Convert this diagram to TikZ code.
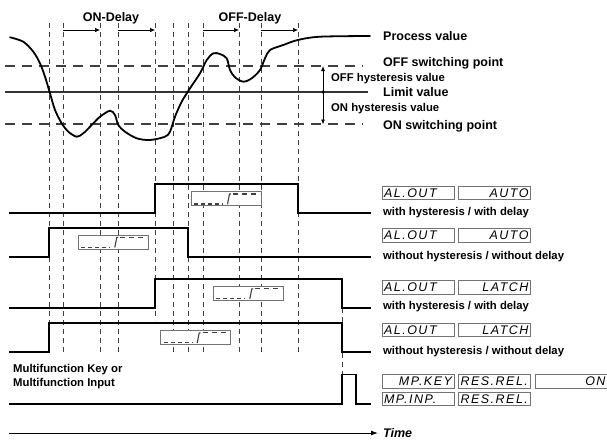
\documentclass[tikz,border=0pt]{standalone}
\usepackage{fontspec}
\setmainfont{Liberation Sans}
\newfontfamily\lcdfont[LetterSpace=12]{Liberation Sans}
\usepackage{tikz}
\usetikzlibrary{arrows.meta}

\tikzset{
	lbl/.style={anchor=base west,inner sep=0pt,font=\bfseries\fontsize{12.5}{14}\selectfont},
	smalllbl/.style={anchor=base west,inner sep=0pt,font=\bfseries\fontsize{11.3}{13.3}\selectfont},
	vdash/.style={black!75,line width=0.75pt,dash pattern=on 5pt off 4pt},
	hdash/.style={black!75,line width=1.2pt,dash pattern=on 10pt off 7pt},
	signal/.style={line width=1.8pt},
	delay/.style={-{Latex[length=5pt,width=4.5pt]},line width=0.7pt},
	lcd/.style={draw=black!55,line width=0.8pt,minimum width=72pt,minimum height=13.5pt,inner sep=0pt,text width=68pt,font=\lcdfont\itshape\fontsize{12.5}{12.5}\selectfont},
	relayicon/.pic={
		\draw[fill=white,draw=black!55,line width=0.8pt] (0,0) rectangle (70,14);
		\draw[black!75,line width=1.1pt,dash pattern=on 4pt off 3pt] (3,12.3) -- (32,12.3);
		\draw[black!75,line width=1.1pt] (36.5,12.5) -- (38.5,2.3) -- (40,2.3);
		\draw[black!75,line width=1.1pt,dash pattern=on 5pt off 4pt] (42,2.3) -- (69,2.3);
	}
}

\begin{document}
\begin{tikzpicture}[x=1pt,y=-1pt]
		\useasboundingbox (0,0) rectangle (607,440);
		% switching instants
		\foreach \x in {49,63,100,118,173,188,203,239,261,298}
			\draw[vdash] (\x,23) -- (\x,352);
		\draw[vdash] (155,23) -- (155,320);
		\draw[vdash] (342,308) -- (342,375);

		% delay arrows
		\node (ondelay) at (111,21.7)[anchor=base,inner sep=0pt,font=\bfseries\fontsize{12.5}{14}\selectfont]{ON-Delay};
		\node (offdelay) at (250,21.7)[anchor=base,inner sep=0pt,font=\bfseries\fontsize{12.5}{14}\selectfont]{OFF-Delay};
		\coordinate (on1a) at (63,30); \coordinate (on1b) at (100,30);
		\coordinate (on2a) at (118,30); \coordinate (on2b) at (155,30);
		\coordinate (off1a) at (203,30); \coordinate (off1b) at (239,30);
		\coordinate (off2a) at (261,30); \coordinate (off2b) at (298,30);
		\draw[delay] (on1a) -- (on1b);
		\draw[delay] (on2a) -- (on2b);
		\draw[delay] (off1a) -- (off1b);
		\draw[delay] (off2a) -- (off2b);

		% levels
		\draw[hdash] (5,66) -- (363,66);
		\draw[black!80,line width=1.1pt] (5,92) -- (368,92);
		\draw[hdash] (5,124) -- (363,124);
		\coordinate (hysttop) at (323,66);
		\coordinate (hystmid) at (323,92);
		\coordinate (hystbot) at (323,124.5);
		\draw[{Latex[length=5pt,width=4pt]}-{Latex[length=5pt,width=4pt]},line width=0.8pt] (hysttop) -- (hystbot);
		\fill (hystmid) circle (1.6pt);

		% process value
		\draw[line width=1.8pt,line cap=round] plot[smooth,tension=0.5] coordinates {
			(10,37.3) (23.3,41.7) (33.3,51.7) (40,63.3) (45,76.7) (50,93.3) (55,110)
			(61.7,123.3) (68.3,131.7) (76.7,136.7) (83.3,133.3) (91.7,125) (100,116.7)
			(110,110.7) (115,115) (118.3,125) (125,131.7) (136.7,138.3) (150,140)
			(165,136.7) (170,131.7) (175,116.7) (181.7,101.7) (190,88.3) (200,73.3)
			(206.7,60) (213.3,53.3) (220,54) (226.7,58.3) (230,70) (235,77.3) (243.3,81.7)
			(251.7,78.3) (260,70) (265,58.3) (270,50) (283.3,45) (297.7,40) (320,36.7) (370,36)};

		\node (pvlbl) at (383,40.7)[lbl]{Process value};
		\node (offlbl) at (383,66.5)[lbl]{OFF switching point};
		\node (offhyst) at (331,81.7)[smalllbl]{OFF hysteresis value};
		\node (limlbl) at (383,96)[lbl]{Limit value};
		\node (onhyst) at (331,111.7)[smalllbl]{ON hysteresis value};
		\node (onlbl) at (383,129.5)[lbl]{ON switching point};

		% relay outputs
		\draw[signal] (9,213) -- (155,213) -- (155,184) -- (298,184) -- (298,213) -- (371,213);
		\draw[signal] (9,257) -- (49,257) -- (49,228) -- (188,228) -- (188,257) -- (371,257);
		\draw[signal] (9,308) -- (155,308) -- (155,279) -- (342,279) -- (342,308) -- (371,308);
		\draw[signal] (9,352) -- (49,352) -- (49,323) -- (342,323) -- (342,352) -- (371,352);
		\draw[signal] (9,404) -- (342,404) -- (342,374.5) -- (356,374.5) -- (356,404) -- (371,404);

		\pic (icon1) at (191,191.7) {relayicon};
		\pic (icon2) at (78.3,235) {relayicon};
		\pic (icon3) at (213.3,286.5) {relayicon};
		\pic (icon4) at (160.7,330.5) {relayicon};

		% display settings
		\node (r1a) at (418,193)[lcd,align=left]{AL.OUT};
		\node (r1b) at (494.5,193)[lcd,align=right]{AUTO};
		\node (r1txt) at (383,215.5)[smalllbl]{with hysteresis / with delay};
		\node (r2a) at (418,235.5)[lcd,align=left]{AL.OUT};
		\node (r2b) at (494.5,235.5)[lcd,align=right]{AUTO};
		\node (r2txt) at (383,259.5)[smalllbl]{without hysteresis / without delay};
		\node (r3a) at (418,287.5)[lcd,align=left]{AL.OUT};
		\node (r3b) at (494.5,287.5)[lcd,align=right]{LATCH};
		\node (r3txt) at (383,309.5)[smalllbl]{with hysteresis / with delay};
		\node (r4a) at (418,330)[lcd,align=left]{AL.OUT};
		\node (r4b) at (494.5,330)[lcd,align=right]{LATCH};
		\node (r4txt) at (383,354)[smalllbl]{without hysteresis / without delay};
		\node (mf1a) at (418,381.3)[lcd,align=right]{MP.KEY};
		\node (mf1b) at (494.5,381.3)[lcd,align=left]{RES.REL.};
		\node (mf1c) at (571.5,381.3)[lcd,align=right]{ON};
		\node (mf2a) at (418,398.8)[lcd,align=left]{MP.INP.};
		\node (mf2b) at (494.5,398.8)[lcd,align=left]{RES.REL.};

		\node (mflbl) at (13,386)[anchor=base west,inner sep=0pt,align=left,font=\bfseries\fontsize{11.3}{13.3}\selectfont]{Multifunction Key or\\Multifunction Input};

		% time axis
		\coordinate (t0) at (9,433);
		\node (time) at (383,437.3)[anchor=base west,inner sep=0pt,font=\bfseries\itshape\fontsize{12.5}{14}\selectfont]{Time};
		\draw[-{Latex[length=7pt,width=5pt]},line width=1pt] (t0) -- (378,433);
	\end{tikzpicture}
\end{document}
